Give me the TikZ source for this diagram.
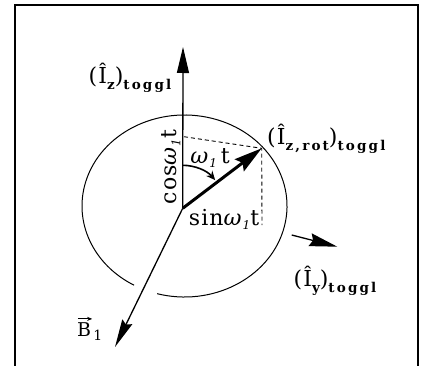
\documentclass[tikz,border=0pt]{standalone}
\usepackage{fontspec}
\setmainfont{DejaVu Serif}
\newfontfamily\lsf[LetterSpace=5]{DejaVu Serif}
\newfontfamily\subbf[LetterSpace=16]{DejaVu Serif}
\usetikzlibrary{arrows.meta}
\newcommand\sbx[1]{\raisebox{-6pt}{\fontsize{13.5}{14}\selectfont\subbf\bfseries #1}}
\newcommand\sbi[1]{\raisebox{-4pt}{\fontsize{12}{12}\selectfont\itshape #1}}
\tikzset{
  lab/.style={inner sep=0pt, font=\fontsize{22}{24}\selectfont\lsf},
  axisline/.style={line width=1.3pt},
  thinline/.style={line width=1pt},
  dashline/.style={line width=0.9pt, dash pattern=on 4pt off 3pt},
}
\begin{document}
\begin{tikzpicture}[x=1pt,y=1pt]
\useasboundingbox (0,0) rectangle (422,365);
\draw[line width=1.5pt] (15,-5) -- (15,360) -- (418,360) -- (418,-5);
% points
\coordinate (O) at (182.7,156.7);
\coordinate (ztip) at (183,318);
\coordinate (rtip) at (261.7,216.7);
\coordinate (ctop) at (184,228.3);
\coordinate (sbot) at (262,140);
\coordinate (btip) at (115,18);
\coordinate (ys) at (291.7,130);
\coordinate (ye) at (337.3,118.3);
\coordinate (C) at (184.5,159);
% ellipse with gap
\draw[thinline] (C) ++(254.5:102.5 and 91) arc[start angle=254.5, end angle=600.5, x radius=102.5, y radius=91];
% axes
\draw[axisline, -{Triangle[length=26pt,width=12pt]}] (O) -- (ztip);
\draw[axisline, -{Stealth[length=28pt,width=11pt,inset=3pt]}] (O) -- (btip);
\draw[axisline, -{Stealth[length=28pt,width=13pt,inset=3pt]}] (ys) -- (ye);
% dashed projections
\draw[dashline] (ctop) -- (rtip) -- (sbot);
% rotated vector
\draw[line width=3pt, -{Stealth[length=28pt,width=15pt,inset=4pt]}] (O) -- (rtip);
% angle arc
\draw[line width=1.6pt, -{Stealth[length=9pt,width=8pt]}] (182.7,199.7) arc[start angle=90, end angle=41, radius=43];
% labels
\node[lab] (lz) at (130,287) {(Î\sbx{z})\sbx{toggl}};
\node[lab, anchor=west] (lrot) at (267,226) {(Î\sbx{z,rot})\sbx{toggl}};
\node[lab] (ly) at (335,84) {(Î\sbx{y})\sbx{toggl}};
\node[lab, font=\fontsize{19}{21}\selectfont] (lb) at (84,35) {B};
\node[lab, font=\fontsize{14}{14}\selectfont, anchor=base west] (lb1) at ([xshift=2pt,yshift=-4pt]lb.base east) {1};
\coordinate (bva) at ([xshift=1pt,yshift=4pt]lb.north west);
\coordinate (bvb) at ([xshift=1pt,yshift=4pt]lb.north east);
\draw[line width=0.9pt, -{Stealth[length=5pt,width=4pt]}] (bva) -- (bvb);
\node[lab, rotate=90] (lcos) at (171,198) {cos\textit{ω}\sbi{1}t};
\node[lab] (lw) at (210,207) {\textit{ω}\sbi{1}\,t};
\node[lab] (lsin) at (224,146) {sin\textit{ω}\sbi{1}t};
\end{tikzpicture}
\end{document}
